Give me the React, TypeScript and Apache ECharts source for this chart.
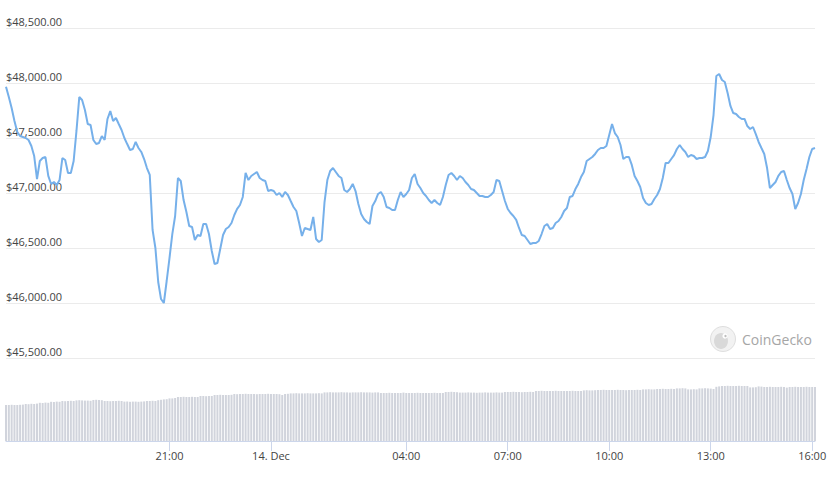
import React, { useEffect, useRef } from "react";
import * as echarts from "echarts";

// 5-minute samples, starting 13 Dec 16:10 (UTC)
const START_TIME = Date.UTC(2021, 11, 13, 16, 10);
const STEP_MINUTES = 5;

// BTC price (USD), one value per 5 minutes
const PRICES = [
  47966, 47873, 47773, 47655, 47555, 47518, 47509, 47500, 47482, 47427, 47336, 47127, 47291, 47318, 47327, 47155,
  47082, 47100, 47073, 47118, 47318, 47300, 47182, 47182, 47291, 47564, 47873, 47845, 47755, 47627, 47618, 47482,
  47445, 47455, 47518, 47482, 47673, 47745, 47655, 47682, 47627, 47573, 47500, 47445, 47391, 47400, 47464, 47409,
  47373, 47309, 47227, 47164, 46664, 46500, 46191, 46036, 46000, 46200, 46409, 46627, 46791, 47136, 47109, 46936,
  46827, 46700, 46691, 46573, 46618, 46609, 46718, 46718, 46627, 46473, 46355, 46364, 46491, 46618, 46673, 46691,
  46727, 46800, 46855, 46891, 46964, 47182, 47118, 47155, 47173, 47191, 47136, 47118, 47109, 47018, 47027, 47018,
  46982, 47000, 46964, 47009, 46982, 46927, 46873, 46836, 46727, 46609, 46682, 46673, 46664, 46782, 46582, 46555,
  46573, 46918, 47118, 47200, 47227, 47191, 47155, 47136, 47027, 47009, 47036, 47082, 47018, 46900, 46809, 46764,
  46736, 46718, 46882, 46927, 46991, 47009, 46964, 46873, 46864, 46845, 46845, 46936, 47009, 46964, 46991, 47027,
  47136, 47173, 47082, 47045, 47000, 46973, 46936, 46909, 46936, 46909, 46891, 46964, 47073, 47164, 47182, 47155,
  47118, 47155, 47136, 47100, 47073, 47036, 47027, 47000, 46973, 46973, 46964, 46964, 46982, 47009, 47118, 47109,
  47018, 46927, 46855, 46818, 46791, 46755, 46682, 46618, 46609, 46573, 46536, 46545, 46545, 46564, 46627, 46700,
  46718, 46673, 46682, 46727, 46745, 46782, 46836, 46864, 46964, 46973, 47036, 47082, 47145, 47191, 47291, 47309,
  47327, 47355, 47391, 47409, 47409, 47427, 47527, 47627, 47545, 47509, 47436, 47309, 47327, 47327, 47255, 47155,
  47109, 47055, 46955, 46909, 46891, 46900, 46945, 46982, 47036, 47136, 47273, 47273, 47309, 47345, 47400, 47436,
  47400, 47373, 47327, 47345, 47336, 47309, 47318, 47318, 47327, 47382, 47509, 47709, 48064, 48082, 48027, 48009,
  47909, 47791, 47727, 47718, 47691, 47673, 47673, 47609, 47582, 47600, 47536, 47464, 47409, 47355, 47227, 47045,
  47073, 47100, 47155, 47191, 47200, 47118, 47045, 46991, 46855, 46909, 46991, 47118, 47218, 47327, 47400, 47409,
];

// 24h trading volume (billion USD), one value per 5 minutes
const VOLUMES = [
  18.0, 18.0, 18.1, 18.0, 18.0, 18.1, 18.2, 18.5, 18.4, 18.6, 18.5, 18.7, 19.1, 19.0, 19.2, 19.1,
  19.6, 19.5, 19.7, 19.6, 20.0, 19.9, 20.0, 20.1, 20.0, 20.3, 20.4, 20.3, 20.2, 20.2, 20.1, 20.5,
  20.6, 20.5, 20.4, 20.0, 20.0, 19.9, 20.0, 20.0, 20.1, 20.0, 19.7, 19.7, 19.6, 19.7, 19.7, 19.6,
  19.7, 19.8, 20.0, 20.0, 20.1, 20.0, 20.4, 20.6, 20.8, 20.9, 21.3, 21.3, 21.5, 22.0, 22.0, 22.1,
  22.0, 22.0, 22.1, 22.0, 22.0, 22.5, 22.5, 22.4, 22.5, 22.5, 23.0, 23.0, 23.1, 23.0, 23.0, 23.0,
  23.1, 23.5, 23.4, 23.5, 23.5, 23.6, 23.5, 23.5, 23.5, 23.4, 23.5, 23.5, 23.5, 23.6, 23.5, 23.5,
  23.5, 23.4, 23.0, 23.5, 23.6, 23.8, 23.8, 23.9, 23.8, 23.8, 23.8, 23.9, 23.8, 23.8, 23.8, 23.9,
  23.8, 24.3, 24.3, 24.4, 24.3, 24.3, 24.3, 24.4, 24.3, 24.3, 24.2, 24.3, 24.3, 24.3, 24.4, 24.3,
  24.3, 24.3, 24.2, 24.3, 24.3, 24.0, 24.0, 24.0, 24.1, 24.0, 24.0, 24.0, 24.0, 24.2, 24.0, 24.0,
  24.0, 24.0, 24.1, 24.0, 24.0, 24.0, 24.0, 24.0, 24.1, 24.0, 24.0, 24.0, 24.5, 24.5, 24.6, 24.5,
  24.4, 24.2, 24.2, 24.2, 24.3, 24.2, 24.2, 24.1, 24.2, 24.2, 24.3, 24.2, 24.2, 24.2, 24.3, 24.2,
  24.2, 24.5, 24.5, 24.5, 24.6, 24.5, 24.5, 24.4, 24.5, 24.5, 24.6, 24.5, 25.0, 25.0, 25.1, 25.0,
  25.0, 25.0, 25.0, 25.1, 25.0, 25.0, 25.0, 25.0, 25.0, 25.1, 25.0, 25.0, 25.0, 25.3, 25.4, 25.3,
  25.3, 25.4, 25.5, 25.5, 25.6, 25.5, 25.5, 25.5, 25.5, 25.6, 25.5, 25.5, 25.4, 25.5, 25.5, 25.5,
  25.6, 25.5, 25.8, 25.8, 25.9, 25.8, 25.8, 26.0, 26.0, 26.1, 26.0, 26.0, 26.1, 26.0, 26.3, 26.3,
  26.4, 26.3, 25.8, 25.8, 25.9, 25.8, 26.3, 26.3, 26.4, 26.3, 26.2, 26.0, 27.1, 27.3, 27.5, 27.5,
  27.6, 27.5, 27.5, 27.5, 27.6, 27.5, 27.5, 27.5, 26.8, 26.8, 26.9, 27.3, 27.2, 27.0, 27.0, 27.1,
  27.0, 27.0, 27.0, 27.1, 27.0, 26.7, 27.0, 27.0, 27.1, 27.0, 27.0, 27.0, 27.1, 27.0, 27.0, 27.0,
];

// x-axis tick positions
const TICK_TIMES = [
  Date.UTC(2021, 11, 13, 21, 0),
  Date.UTC(2021, 11, 14, 0, 0),
  Date.UTC(2021, 11, 14, 4, 0),
  Date.UTC(2021, 11, 14, 7, 0),
  Date.UTC(2021, 11, 14, 10, 0),
  Date.UTC(2021, 11, 14, 13, 0),
  Date.UTC(2021, 11, 14, 16, 0),
];
const MONTHS = ["Jan", "Feb", "Mar", "Apr", "May", "Jun", "Jul", "Aug", "Sep", "Oct", "Nov", "Dec"];

const PRICE_MIN = 45500;
const PRICE_MAX = 48500;
const PRICE_STEP = 500;
const VOLUME_MAX = 38;

const FONT = "'Open Sans', 'Liberation Sans', sans-serif";
const LABEL_COLOR = "#444444";

const pad = (n: number) => (n < 10 ? "0" + n : String(n));
const fmtTime = (v: number) => {
  const d = new Date(v);
  const h = d.getUTCHours();
  const m = d.getUTCMinutes();
  if (h === 0 && m === 0) return `${d.getUTCDate()}. ${MONTHS[d.getUTCMonth()]}`;
  return `${pad(h)}:${pad(m)}`;
};
const usd = new Intl.NumberFormat("en-US", { minimumFractionDigits: 2, maximumFractionDigits: 2 });

export default function App() {
  const ref = useRef<HTMLDivElement>(null);

  useEffect(() => {
    if (!ref.current) return;
    const chart = echarts.init(ref.current, undefined, { renderer: "svg" });
    const times = PRICES.map((_, i) => START_TIME + i * STEP_MINUTES * 60000);
    const xMin = times[0];
    const xMax = times[times.length - 1];

    chart.setOption({
      animation: false,
      textStyle: { fontFamily: FONT },
      grid: [
        { left: 6, right: 15, top: 28, height: 330, containLabel: false },
        { left: 6, right: 15, top: 365, bottom: 40, containLabel: false },
      ],
      xAxis: [
        {
          type: "value",
          gridIndex: 0,
          min: xMin,
          max: xMax,
          show: false,
          splitLine: { show: false },
        },
        {
          type: "value",
          gridIndex: 1,
          min: xMin,
          max: xMax,
          axisLine: { show: true, onZero: false, lineStyle: { color: "#ccd6eb", width: 1 } },
          axisTick: {
            show: true,
            customValues: TICK_TIMES,
            length: 10,
            lineStyle: { color: "#ccd6eb", width: 1 },
          },
          axisLabel: {
            customValues: TICK_TIMES,
            formatter: (v: number) => fmtTime(v),
            color: LABEL_COLOR,
            fontSize: 11,
            fontFamily: FONT,
            margin: 9,
          },
          splitLine: { show: false },
        },
      ],
      yAxis: [
        {
          type: "value",
          gridIndex: 0,
          min: PRICE_MIN,
          max: PRICE_MAX,
          interval: PRICE_STEP,
          axisLine: { show: false },
          axisTick: { show: false },
          axisLabel: {
            inside: true,
            margin: 0,
            verticalAlign: "bottom",
            padding: [0, 0, 1, 0],
            color: LABEL_COLOR,
            fontSize: 11,
            fontFamily: FONT,
            formatter: (v: number) => "$" + usd.format(v),
          },
          splitLine: { show: true, lineStyle: { color: "#ebebeb", width: 1 } },
        },
        {
          type: "value",
          gridIndex: 1,
          min: 0,
          max: VOLUME_MAX,
          show: false,
          splitLine: { show: false },
        },
      ],
      series: [
        {
          name: "Price",
          type: "line",
          xAxisIndex: 0,
          yAxisIndex: 0,
          data: times.map((t, i) => [t, PRICES[i]]),
          showSymbol: false,
          symbol: "none",
          lineStyle: { color: "#76b0ea", width: 2 },
          itemStyle: { color: "#76b0ea" },
          z: 3,
        },
        {
          name: "Volume",
          type: "bar",
          xAxisIndex: 1,
          yAxisIndex: 1,
          data: times.map((t, i) => [t, VOLUMES[i]]),
          barWidth: 2,
          itemStyle: { color: "#d1d4dc" },
        },
      ],
      graphic: [
        {
          type: "group",
          left: 710,
          top: 326,
          children: [
            {
              type: "circle",
              shape: { cx: 13, cy: 13, r: 12.5 },
              style: { fill: "#f2f2f2", stroke: "#dedede", lineWidth: 1 },
            },
            {
              type: "ellipse",
              shape: { cx: 11, cy: 15, rx: 7, ry: 8 },
              style: { fill: "#d9d9d9" },
            },
            {
              type: "circle",
              shape: { cx: 15, cy: 10, r: 2.6 },
              style: { fill: "#ffffff" },
            },
            {
              type: "circle",
              shape: { cx: 15.5, cy: 10, r: 1.2 },
              style: { fill: "#bdbdbd" },
            },
            {
              type: "text",
              x: 32,
              y: 13,
              style: {
                text: "CoinGecko",
                fill: "#a6a6a6",
                fontSize: 14,
                fontFamily: FONT,
                verticalAlign: "middle",
                align: "left",
              },
            },
          ],
        },
      ],
    });

    return () => chart.dispose();
  }, []);

  return (
    <div
      ref={ref}
      style={{ position: "absolute", left: 0, top: 0, width: 830, height: 481, background: "#ffffff" }}
    />
  );
}
